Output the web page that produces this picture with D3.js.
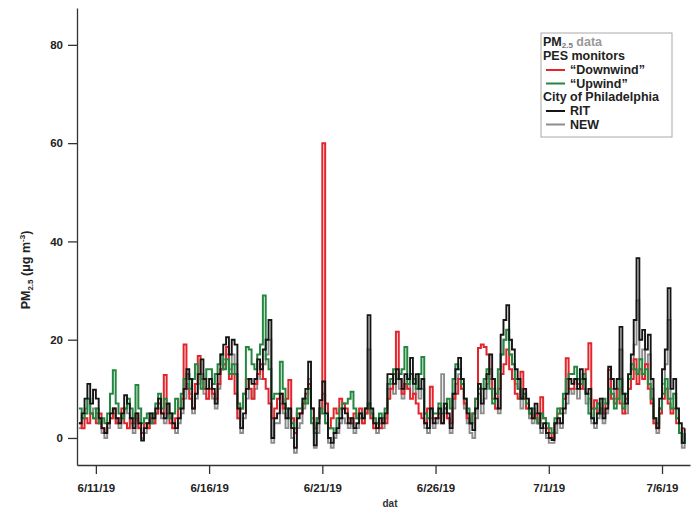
<!DOCTYPE html>
<html>
<head>
<meta charset="utf-8">
<script src="https://cdn.jsdelivr.net/npm/d3@7"></script>
<style>
  body { margin: 0; background: #fff; }
  svg { display: block; font-family: "Liberation Sans", Arial, sans-serif; }
  .tick text { font-weight: bold; fill: #222; }
</style>
</head>
<body>
<div id="chart-area"></div>
<script>
// 3-hourly PM2.5 readings starting 6/10/19 06:00
var startTime = new Date(2019, 5, 10, 6);
var stepHours = 3;

var rit = [
  3,5,8,11,7,9.8,
  8,4,2,1,3,5,6,4,
  3,5,8.7,7,4,2,5,3,
  -0.5,2,3,5,4,6,8,5,
  4,7,5,3,2,4,6,10,
  14,12,6,9,13,16,12,10,
  12,10,7,13,17,19,20.5,17,
  20,19,6,2,5,10,12,11,
  12,16,14,18,20,24,0,4,
  5,9,7,4,6,2,-2,4,
  5,8,10,15.5,6,-1.5,3,7.7,
  11.5,5,0,-1,1,2,4,6,
  5,3,4,2,3,5,4,6,
  25,6,3,2,4,3,5,13,
  13,11,14,12,10,13,12,16.3,
  11,13,10,12,3,2,6,3,
  4,6,3,7,5,2,9,14,
  16.3,12,8,5,3,1.6,6,11,
  7,10,13,17,12,8,6,21,
  24,27,20,18,14,12,8,10,
  8,6,4,7,5,2,3,1,
  0,-0.4,3,4,3,6,9,12,
  11,12,10,14,12,9,10,4,
  3,5,8,4,6,14.5,12,10,
  12,22.6,9,7,13,17,24,36.6,
  20,22,18,21,12,4,2,8,
  14,18,30.5,10,12,6,3,-1,
  2
];

var upwind = [
  6,4,5,8,5,4,
  6,3,4,3,5,9,13.8,7,
  5,4,6,8,6,4,10.8,6,
  3,4,5,3,5,7,9,6,
  8,7,4,5,8,6,9,12,
  13,10,12,15,13,10,12,14,
  14,11,13,15,17,14,16,13,
  15,13,7,6,9,18.5,18,15,
  14,17,19,29,16,14,8,9,
  9,15.5,10,6,4,3,2,6,
  6,8,7,10,3,1,4,6,
  5,3,2,2,1,4,6,7,
  7,8,9.4,6,4,5,4,6,
  7,5,4,3,5,4,6,11,
  12,14,12,13,14,18.5,11,13,
  12,10,13,16.5,5,4,6,5,
  5,7,5,6,8,6,12,15,
  14,11,8,6,3,5,8,10,
  10,12,14,10,7,9,14,17,
  20,22,17,15,12,10,8,9,
  7,5,6,4,3,5,4,3,
  2,1,4,6,5,9,12,13,
  13,14.5,12,11,13,9,5,4,
  6,7,5,8,7,10,9,6,
  8,12,6,9,12,15,14,13,
  16,13,14,11,8,4,3,6,
  9,12,8,6,9,4,1,-1,
  1
];

var downwind = [
  3,2,4,3,5,4,
  3,5,2,1,3,4,6,3,
  4,6,3,2,4,3,5,2,
  1,3,2,4,3,5,7,5,
  12.8,5,3,2,4,6,8,19,
  10,8,6,11,16.7,12,10,8,
  10,9,8,11,14,15,18.5,12,
  13,9,4,6,9,12,10,8,
  11,13,15,12,10,7,4,6,
  8,9,6,8,11.8,4,1,5,
  5,7,9,11,6,2,4,6,
  60,7,2,4,6,5,8,7,
  6,4,3,5,4,6,3,5,
  6,4,2,3,2,4,3,8,
  10,13,21.6,12,9,11,10,8,
  9,7,5,4,3,6,10.4,4,
  4,5,3,6,4,3,8,9,
  12,10,7,4,3,5,8,18.3,
  19,18.5,17,12,8,6,10,13,
  15,18,14,12,9,8,13.5,8,
  6,5,4,5,3,8.3,4,2,
  1,0,3,5,6,8,16.2,10,
  10,12,11,10,12,14,19.3,6,
  7.7,5,6,5,7,13.9,8,7,
  10,7,5,8,10,12,16,11,
  14,12,15,10,7,3,2,5,
  8,10,7,5,6,3,1,2,
  2
];

var newSite = [
  2,4,6,8,5,6,
  5,3,1,0,2,4,5,3,
  2,4,6,5,3,1,4,2,
  0,1,2,4,3,5,6,4,
  3,5,4,2,1,3,5,8,
  11,9,5,8,11,13,9,8,
  10,8,6,10,14,16,17,14,
  17,15,4,1,4,8,10,8,
  10,13,12,15,17,20,-1,3,
  3,7,5,2,4,0,-3,2,
  3,6,8,12,4,-2,1,5,
  9,3,-1,-2,0,1,3,4,
  3,2,3,1,2,4,3,5,
  18,4,2,1,3,2,4,10,
  11,9,12,10,8,11,10,13,
  9,10,8,10,2,1,4,2,
  3,4,13,5,4,1,6,11,
  13,10,6,3,1,0,4,9,
  5,8,11,14,10,6,5,17,
  20,22,17,15,11,10,6,8,
  6,4,3,5,3,1,2,0,
  -1,-1,1,3,2,5,7,10,
  9,10,8,12,10,7,8,3,
  2,4,6,3,5,12,10,8,
  10,18,7,5,10,14,19,28,
  16,18,15,17,10,3,1,6,
  11,15,24,8,9,4,1,-2,
  1
];

var xTickDates = [new Date(2019, 5, 11), new Date(2019, 5, 16), new Date(2019, 5, 21),
                  new Date(2019, 5, 26), new Date(2019, 6, 1), new Date(2019, 6, 6)];
var xTickLabels = ["6/11/19", "6/16/19", "6/21/19", "6/26/19", "7/1/19", "7/6/19"];
var yTicks = [0, 20, 40, 60, 80];

var series = [
  { name: "NEW", values: newSite, color: "#8c8c8c", width: 1.9 },
  { name: "Downwind", values: downwind, color: "#e3242b", width: 2 },
  { name: "Upwind", values: upwind, color: "#23873f", width: 2 },
  { name: "RIT", values: rit, color: "#151515", width: 1.9 }
];

var W = 694, H = 510;
var svg = d3.select("#chart-area")
    .append("svg")
        .attr("width", W)
        .attr("height", H);

var x = d3.scaleTime()
    .domain([new Date(2019, 5, 10, 4), new Date(2019, 6, 7, 5, 40)])
    .range([77, 690]);

var y = d3.scaleLinear()
    .domain([-5.5, 87.5])
    .range([465, 8]);

// lines
var line = d3.line()
    .x((d, i) => x(d3.timeHour.offset(startTime, i * stepHours)))
    .y(d => y(d))
    .curve(d3.curveStepAfter);

svg.append("g")
    .selectAll("path")
    .data(series)
    .enter()
    .append("path")
        .attr("d", d => line(d.values))
        .attr("fill", "none")
        .attr("stroke", d => d.color)
        .attr("stroke-width", d => d.width)
        .attr("stroke-linejoin", "miter");

// axes
var xAxisCall = d3.axisBottom(x)
    .tickValues(xTickDates)
    .tickFormat((d, i) => xTickLabels[i])
    .tickSize(9)
    .tickSizeOuter(0)
    .tickPadding(10);
var xg = svg.append("g")
    .attr("transform", "translate(0," + y(-5.5) + ")")
    .call(xAxisCall);
xg.select(".domain").attr("stroke", "#333").attr("stroke-width", 1.3);
xg.selectAll(".tick line").attr("stroke", "#333").attr("stroke-width", 1.3);
xg.selectAll("text").style("font-size", "11.5px");

var yAxisCall = d3.axisLeft(y)
    .tickValues(yTicks)
    .tickSize(9)
    .tickSizeOuter(0)
    .tickPadding(5);
var yg = svg.append("g")
    .attr("transform", "translate(" + x.range()[0] + ",0)")
    .call(yAxisCall);
yg.select(".domain").attr("stroke", "#333").attr("stroke-width", 1.3);
yg.selectAll(".tick line").attr("stroke", "#333").attr("stroke-width", 1.3);
yg.selectAll("text").style("font-size", "11.5px");

// axis titles
svg.append("text")
    .attr("x", 390)
    .attr("y", 507)
    .attr("text-anchor", "middle")
    .style("font-size", "10px")
    .style("font-weight", "bold")
    .attr("fill", "#333")
    .text("dat");

var yt = svg.append("text")
    .attr("transform", "translate(30,270) rotate(-90)")
    .attr("text-anchor", "middle")
    .style("font-size", "12.5px")
    .style("font-weight", "bold")
    .attr("fill", "#222");
yt.append("tspan").text("PM");
yt.append("tspan").attr("dy", 3).style("font-size", "8px").text("2.5");
yt.append("tspan").attr("dy", -3).text(" (\u03bcg m");
yt.append("tspan").attr("dy", -5).style("font-size", "8px").text("-3");
yt.append("tspan").attr("dy", 5).text(")");

// legend
var lg = svg.append("g").attr("transform", "translate(541,33)");
lg.append("rect")
    .attr("width", 131)
    .attr("height", 104)
    .attr("fill", "#fff")
    .attr("stroke", "#aaa")
    .attr("stroke-width", 1);

var lt = lg.append("text").attr("x", 2).attr("y", 13)
    .style("font-size", "12.5px").style("font-weight", "bold").attr("fill", "#222");
lt.append("tspan").text("PM");
lt.append("tspan").attr("dy", 2).style("font-size", "8px").attr("fill", "#777").text("2.5");
lt.append("tspan").attr("dy", -2).attr("fill", "#999").text(" data");

var legendRows = [
  { label: "PES monitors", color: null, y: 27 },
  { label: "\u201cDownwind\u201d", color: series[1].color, y: 41 },
  { label: "\u201cUpwind\u201d", color: series[2].color, y: 54.5 },
  { label: "City of Philadelphia", color: null, y: 68 },
  { label: "RIT", color: series[3].color, y: 82 },
  { label: "NEW", color: series[0].color, y: 95.5 }
];

legendRows.forEach(r => {
  if (r.color) {
    lg.append("line")
        .attr("x1", 5).attr("x2", 24)
        .attr("y1", r.y - 4).attr("y2", r.y - 4)
        .attr("stroke", r.color)
        .attr("stroke-width", 2);
  }
  lg.append("text")
      .attr("x", r.color ? 29 : 2)
      .attr("y", r.y)
      .style("font-size", "12.5px")
      .style("font-weight", "bold")
      .attr("fill", "#222")
      .text(r.label);
});
</script>
</body>
</html>
